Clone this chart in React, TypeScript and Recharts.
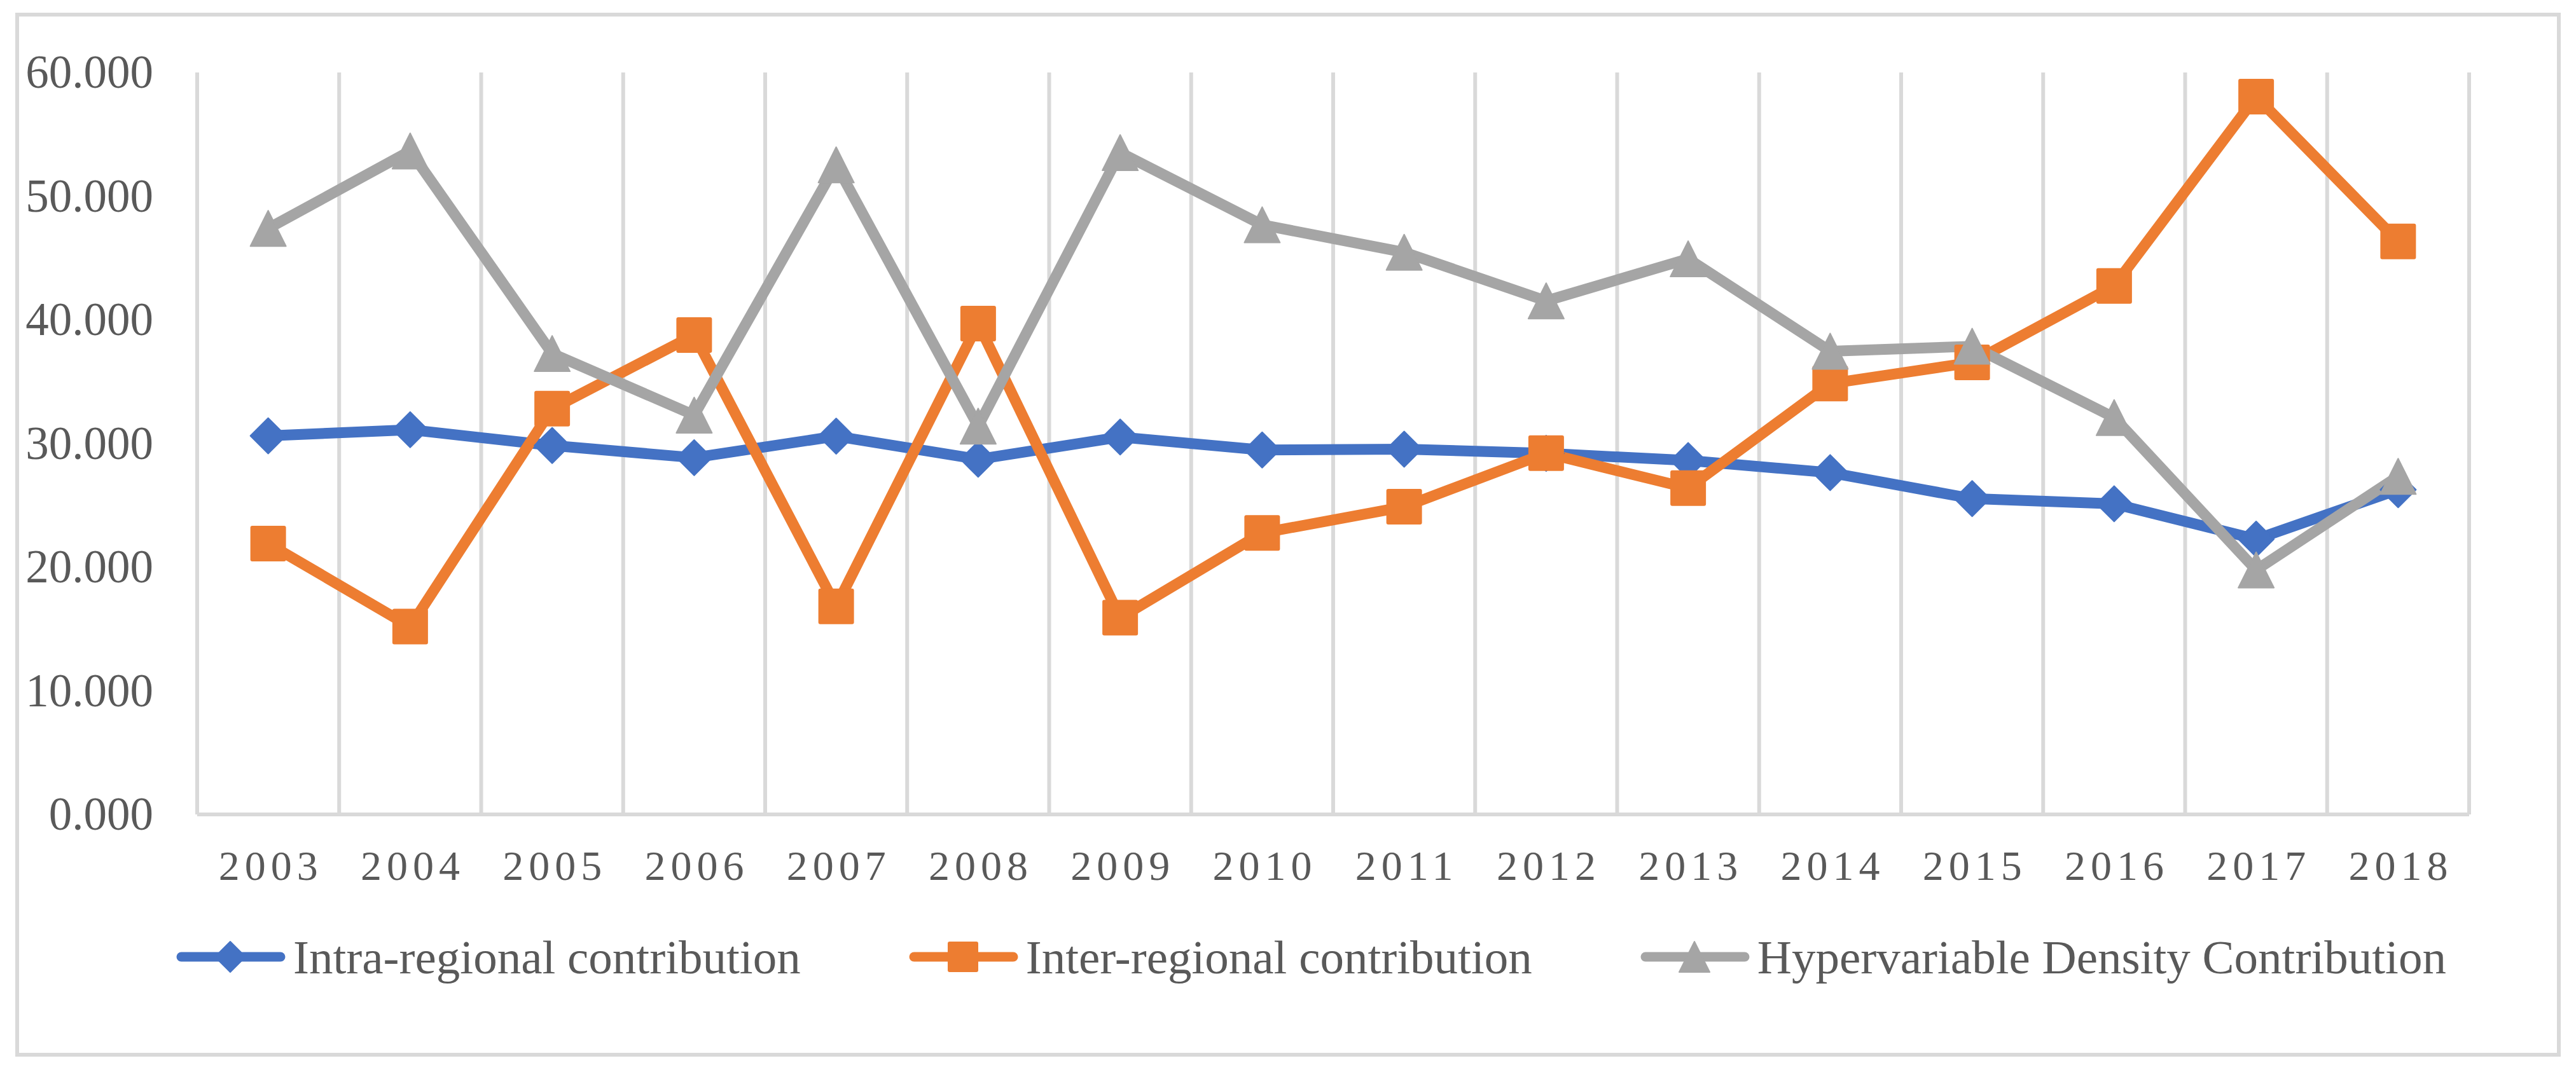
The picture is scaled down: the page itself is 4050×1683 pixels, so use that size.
import { CartesianGrid, Legend, Line, LineChart, XAxis, YAxis } from "recharts";

const YEARS = ["2003", "2004", "2005", "2006", "2007", "2008", "2009", "2010", "2011", "2012", "2013", "2014", "2015", "2016", "2017", "2018"];
const INTRA = [30.62, 31.11, 29.83, 28.85, 30.59, 28.72, 30.52, 29.47, 29.54, 29.2, 28.62, 27.64, 25.54, 25.12, 22.26, 26.26];
const INTER = [21.9, 15.19, 32.81, 38.77, 16.83, 39.69, 15.91, 22.76, 24.88, 29.21, 26.39, 34.84, 36.55, 42.74, 58.04, 46.34];
const HYPER = [47.39, 53.65, 37.27, 32.29, 52.53, 31.4, 53.52, 47.68, 45.46, 41.53, 44.93, 37.46, 37.86, 32.09, 19.77, 27.34];
const Y_TICKS = [0, 10, 20, 30, 40, 50, 60];

const SERIES = [
  { key: "intra", name: "Intra-regional contribution", color: "#4472c4", shape: "diamond" },
  { key: "inter", name: "Inter-regional contribution", color: "#ed7d31", shape: "square" },
  { key: "hyper", name: "Hypervariable Density Contribution", color: "#a5a5a5", shape: "triangle" },
];

const data = YEARS.map((year, i) => ({
  idx: i,
  year,
  intra: INTRA[i],
  inter: INTER[i],
  hyper: HYPER[i],
}));

const TICK_IDX = YEARS.map((_, i) => i);
// gridlines sit between categories (Excel style)
const BOUNDS = [...YEARS.map((_, i) => i - 0.5), YEARS.length - 0.5];

const FONT = "Liberation Serif";
const TEXT = "#595959";
const GRID = "#d9d9d9";

function Marker({ cx, cy, shape, color, size }: { cx: number; cy: number; shape: string; color: string; size: number }) {
  const h = size / 2;
  if (shape === "diamond") {
    return (
      <polygon
        points={`${cx},${cy - h} ${cx + h},${cy} ${cx},${cy + h} ${cx - h},${cy}`}
        fill={color}
        stroke={color}
        strokeWidth={2}
        strokeLinejoin="round"
      />
    );
  }
  if (shape === "square") {
    return <rect x={cx - h} y={cy - h} width={size} height={size} rx={3} fill={color} />;
  }
  return (
    <polygon
      points={`${cx},${cy - h} ${cx + h},${cy + h} ${cx - h},${cy + h}`}
      fill={color}
      stroke={color}
      strokeWidth={2}
      strokeLinejoin="round"
    />
  );
}

function gridX({ xAxis, offset }: any) {
  if (xAxis && typeof xAxis.scale === "function") {
    return BOUNDS.map((b) => xAxis.scale(b));
  }
  return BOUNDS.map((b) => offset.left + ((b + 0.5) / YEARS.length) * offset.width);
}

function XTick({ x, y, payload }: any) {
  return (
    <text
      x={x + 4}
      y={y + 103}
      textAnchor="middle"
      fill={TEXT}
      style={{ letterSpacing: 8, fontFamily: FONT, fontSize: 66 }}
    >
      {YEARS[payload.value]}
    </text>
  );
}

function YTick({ y, payload }: any) {
  // label right edge sits 69px left of the plot
  return (
    <text x={241} y={y + 24} textAnchor="end" fill={TEXT} style={{ fontFamily: FONT, fontSize: 73 }}>
      {Number(payload.value).toFixed(3)}
    </text>
  );
}

function LegendContent() {
  return (
    <div style={{ display: "flex", alignItems: "center", height: "100%", paddingLeft: 277 }}>
      {SERIES.map((s) => (
        <div key={s.key} style={{ display: "flex", alignItems: "center" }}>
          <svg width={172} height={60} style={{ display: "block" }}>
            <line x1={8} x2={164} y1={30} y2={30} stroke={s.color} strokeWidth={15} strokeLinecap="round" />
            <Marker cx={85} cy={30} shape={s.shape} color={s.color} size={48} />
          </svg>
          <span
            style={{
              marginLeft: 12,
              marginRight: 170,
              fontFamily: FONT,
              fontSize: 75,
              lineHeight: "75px",
              color: TEXT,
              whiteSpace: "nowrap",
            }}
          >
            {s.name}
          </span>
        </div>
      ))}
    </div>
  );
}

export default function App() {
  return (
    <div style={{ position: "absolute", left: 0, top: 0, width: 4050, height: 1683, background: "#fff" }}>
      <div
        style={{
          position: "absolute",
          left: 24,
          top: 20,
          width: 4002,
          height: 1642,
          border: `6px solid ${GRID}`,
          boxSizing: "border-box",
        }}
      />
      <div style={{ position: "absolute", left: 0, top: 0 }}>
        <LineChart width={4050} height={1683} data={data} margin={{ top: 114, right: 168, bottom: 0, left: 0 }}>
          <CartesianGrid horizontal={false} stroke={GRID} strokeWidth={6} verticalCoordinatesGenerator={gridX} />
          <XAxis
            type="number"
            dataKey="idx"
            domain={[-0.5, YEARS.length - 0.5]}
            ticks={TICK_IDX}
            interval={0}
            allowDataOverflow
            tickLine={false}
            tickSize={0}
            tickMargin={0}
            axisLine={{ stroke: GRID, strokeWidth: 6 }}
            tick={<XTick />}
            height={402}
          />
          <YAxis
            type="number"
            domain={[0, 60]}
            ticks={Y_TICKS}
            interval={0}
            width={310}
            axisLine={false}
            tickLine={false}
            tickSize={0}
            tickMargin={0}
            tick={<YTick />}
          />
          <Legend
            layout="horizontal"
            verticalAlign="middle"
            align="center"
            content={<LegendContent />}
            wrapperStyle={{ position: "absolute", left: 0, top: 1440, width: 4050, height: 130 }}
          />
          {SERIES.map((s) => (
            <Line
              key={s.key}
              type="linear"
              dataKey={s.key}
              name={s.name}
              stroke={s.color}
              strokeWidth={17}
              strokeLinejoin="round"
              isAnimationActive={false}
              activeDot={false}
              dot={(p: any) => <Marker key={`${s.key}-${p.index}`} cx={p.cx} cy={p.cy} shape={s.shape} color={s.color} size={56} />}
            />
          ))}
        </LineChart>
      </div>
    </div>
  );
}
